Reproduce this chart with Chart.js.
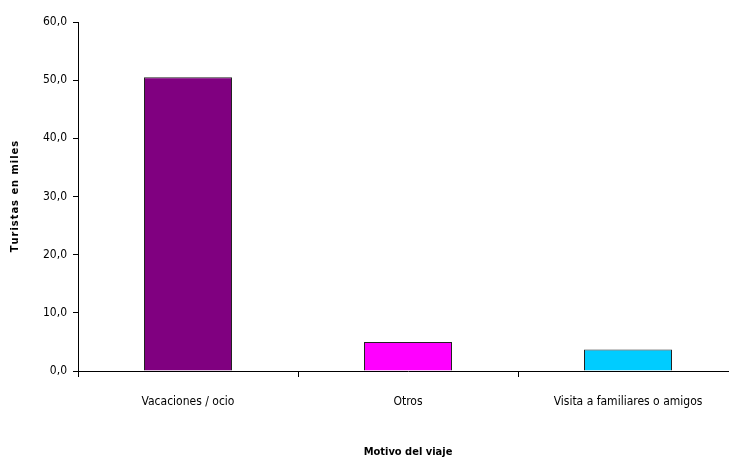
<!DOCTYPE html>
<html><head><meta charset="utf-8">
<script src="https://cdn.jsdelivr.net/npm/chart.js@4"></script>
<style>html,body{margin:0;padding:0;background:#fff;overflow:hidden;width:729px;height:459px}#wrap{width:740px;height:459px}</style>
</head><body><div id="wrap"><canvas id="c"></canvas></div>
<script>
const categories = ["Vacaciones / ocio", "Otros", "Visita a familiares o amigos"];
const values = [50.5, 5.0, 3.7];
const colors = ["#800080", "#FF00FF", "#00CCFF"];
const yTitle = "T\u200Au\u200Ar\u200Ai\u200As\u200At\u200Aa\u200As\u2009 e\u200An\u2009 m\u200Ai\u200Al\u200Ae\u200As";
const xTitle = "Motivo del viaje";
const fam = "'DejaVu Sans Condensed', 'DejaVu Sans', sans-serif";
new Chart(document.getElementById('c'), {
  type: 'bar',
  data: { labels: categories, datasets: [{ data: values, backgroundColor: colors, borderColor: '#222', borderWidth: 1, borderSkipped: 'bottom', barPercentage: 0.4, categoryPercentage: 1.0 }] },
  options: {
    responsive: true, maintainAspectRatio: false, animation: false,
    layout: { padding: { top: 22, right: 2, left: 0, bottom: 0 } },
    plugins: { legend: { display: false }, tooltip: { enabled: false } },
    scales: {
      x: {
        offset: true,
        grid: { display: true, offset: true, drawOnChartArea: false, color: '#000', tickLength: 6, tickColor: '#000' },
        border: { color: '#000', width: 1 },
        ticks: { color: '#000', font: { family: fam, size: 12 }, padding: 18, maxRotation: 0 },
        title: { display: true, text: xTitle, color: '#000', font: { family: fam, size: 11, weight: 'bold' }, padding: 0 },
        afterFit: s => { s.width = s.width; s.height = 88; }
      },
      y: {
        min: 0, max: 60,
        grid: { display: true, drawOnChartArea: false, color: '#000', tickLength: 5, tickColor: '#000' },
        border: { color: '#000', width: 1 },
        ticks: { stepSize: 10, color: '#000', font: { family: fam, size: 12 }, padding: 6, callback: v => v.toFixed(1).replace('.', ',') },
        title: { display: true, text: yTitle, color: '#000', font: { family: fam, size: 11, weight: 'bold' }, padding: { top: 9, bottom: 0 } },
        afterFit: s => { s.width = 78; }
      }
    }
  }
});
</script></body></html>
